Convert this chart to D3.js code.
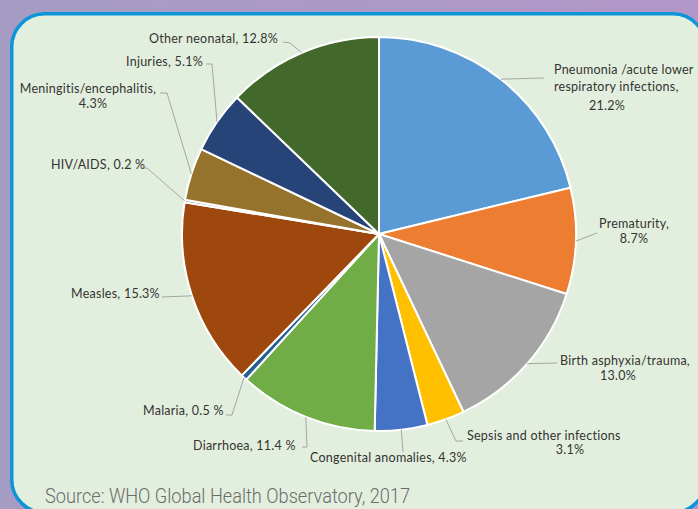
<!DOCTYPE html>
<html>
<head>
<meta charset="utf-8">
<script src="https://cdn.jsdelivr.net/npm/d3@7"></script>
<style>
  html, body { margin: 0; padding: 0; overflow: hidden; }
  svg { display: block; }
</style>
</head>
<body>
<svg id="chart" width="698" height="509"></svg>
<script>
// ---- data ----
const categories = [
  "Pneumonia /acute lower respiratory infections",
  "Prematurity",
  "Birth asphyxia/trauma",
  "Sepsis and other infections",
  "Congenital anomalies",
  "Diarrhoea",
  "Malaria",
  "Measles",
  "HIV/AIDS",
  "Meningitis/encephalitis",
  "Injuries",
  "Other neonatal"
];
const values = [21.2, 8.7, 13.0, 3.1, 4.3, 11.4, 0.5, 15.3, 0.2, 4.3, 5.1, 12.8];
const colors = ["#5b9bd5", "#ed7d31", "#a5a5a5", "#ffc000", "#4472c4", "#70ad47",
                "#255e91", "#9e480e", "#636363", "#96732c", "#264478", "#43682b"];
const labelLines = [
  ["Pneumonia /acute lower", "respiratory infections,", "21.2%"],
  ["Prematurity,", "8.7%"],
  ["Birth asphyxia/trauma,", "13.0%"],
  ["Sepsis and other infections", "3.1%"],
  ["Congenital anomalies, 4.3%"],
  ["Diarrhoea, 11.4 %"],
  ["Malaria, 0.5 %"],
  ["Measles, 15.3%"],
  ["HIV/AIDS, 0.2 %"],
  ["Meningitis/encephalitis,", "4.3%"],
  ["Injuries, 5.1%"],
  ["Other neonatal, 12.8%"]
];
const sourceText = "Source: WHO Global Health Observatory, 2017";

// ---- layout (positions only) ----
// each line: [x, baselineY, anchor]
const labelPos = [
  [[554, 74, "start"], [554, 91, "start"], [607, 110, "middle"]],
  [[634, 228, "middle"], [634, 243, "middle"]],
  [[625, 365, "middle"], [618, 380, "middle"]],
  [[467, 440, "start"], [570, 454, "middle"]],
  [[310, 462, "start"]],
  [[193, 450, "start"]],
  [[143, 415, "start"]],
  [[71, 298, "start"]],
  [[51, 169, "start"]],
  [[88, 93, "middle"], [93, 108, "middle"]],
  [[126, 66, "start"]],
  [[149, 43, "start"]]
];
// leader start points near the label text (then to slice mid on the rim)
const leaderPts = [
  [[544, 78]],
  [[597, 233]],
  [[557, 363]],
  [[463, 441], [456, 441]],
  [[403, 452]],
  [[302, 447], [307, 447]],
  [[226, 415], [232, 415]],
  [[162, 297]],
  [[142, 168], [147, 168]],
  [[160, 93], [167, 93]],
  [[206, 64], [212, 64]],
  [[283, 42], [290, 43]]
];

const W = 698, H = 509;
const cx = 379, cy = 234, R = 197;

const svg = d3.select("#chart");
const defs = svg.append("defs");
const grad = defs.append("linearGradient").attr("id", "bg").attr("x1", 0).attr("x2", 1).attr("y1", 0).attr("y2", 0);
grad.append("stop").attr("offset", 0).attr("stop-color", "#a59cc3");
grad.append("stop").attr("offset", 1).attr("stop-color", "#b297c8");

svg.append("rect").attr("width", W).attr("height", H).attr("fill", "url(#bg)");
svg.append("rect")
  .attr("x", 11.75).attr("y", 13.75).attr("width", 694).attr("height", 499)
  .attr("rx", 33).attr("ry", 33)
  .attr("fill", "#e3efde").attr("stroke", "#0c95d9").attr("stroke-width", 3.5);

const pie = d3.pie().sort(null).value(d => d)(values);
const arc = d3.arc().innerRadius(0).outerRadius(R);

const g = svg.append("g").attr("transform", `translate(${cx},${cy})`);
g.selectAll("path.slice").data(pie).join("path")
  .attr("class", "slice")
  .attr("d", arc)
  .attr("fill", (d, i) => colors[i])
  .attr("stroke", "#ffffff").attr("stroke-width", 2).attr("stroke-linejoin", "round");

// leader lines
const line = d3.line();
pie.forEach((d, i) => {
  const a = (d.startAngle + d.endAngle) / 2;
  const rim = [cx + R * Math.sin(a), cy - R * Math.cos(a)];
  const pts = leaderPts[i].concat([rim]);
  svg.append("path").attr("d", line(pts))
    .attr("fill", "none").attr("stroke", "#a6a6a6").attr("stroke-width", 1);
});

// labels
pie.forEach((d, i) => {
  labelLines[i].forEach((t, j) => {
    const p = labelPos[i][j];
    svg.append("text")
      .attr("x", p[0]).attr("y", p[1])
      .attr("text-anchor", p[2])
      .attr("font-family", "Lato, 'Open Sans', sans-serif")
      .attr("font-size", 12.5)
      .attr("letter-spacing", 0.25)
      .attr("fill", "#333333")
      .text(t);
  });
});

svg.append("text")
  .attr("x", 45).attr("y", 503)
  .attr("font-family", "Roboto, 'Liberation Sans', sans-serif")
  .attr("font-weight", 300)
  .attr("font-size", 19.5)
  .attr("textLength", 365)
  .attr("lengthAdjust", "spacingAndGlyphs")
  .attr("fill", "#6b6b6b")
  .text(sourceText);
</script>
</body>
</html>
